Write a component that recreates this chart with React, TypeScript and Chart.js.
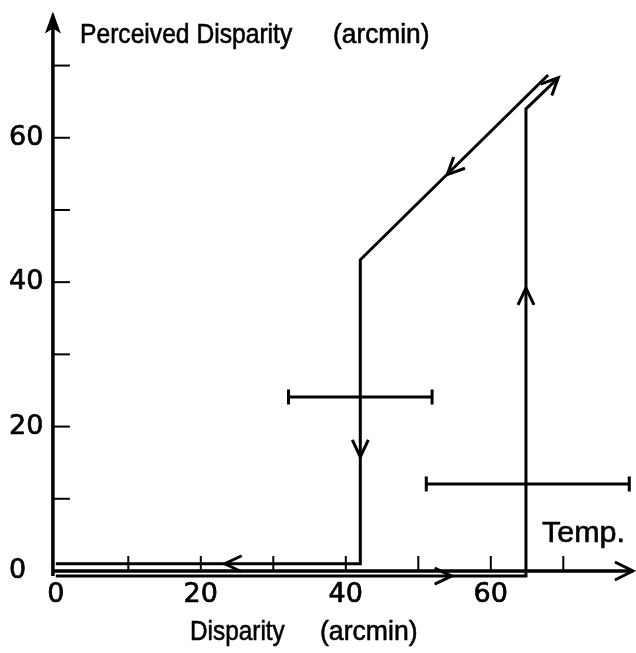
import React, { useEffect, useRef } from "react";
import { Chart, registerables } from "chart.js";

Chart.register(...registerables);

// ---- tick values ----
const xLabelTicks = [0, 20, 40, 60];
const yLabelTicks = [0, 20, 40, 60];
const xMinorTicks = [10, 20, 30, 40, 50, 60, 70];
const yMinorTicks = [10, 20, 30, 40, 50, 60, 70];

// ---- increasing-disparity path ----
const upX = [0, 64.85, 64.85, 69.3];
const upY = [-0.7, -0.7, 64, 68.3];

// ---- decreasing-disparity path ----
const downX = [67.9, 42, 42, 0];
const downY = [68.7, 43.1, 1, 1];

// ---- horizontal error bars ----
const errCenterX = [42, 65.1];
const errY = [24.1, 12.05];
const errHalf = [9.9, 14];

// ---- direction arrows on the paths (position + direction in data units) ----
const arrowX = [54.6, 64.85, 69.3, 54, 42, 23.3];
const arrowY = [-0.7, 39.2, 68.3, 54.9, 15.8, 1];
const arrowDX = [1, 0, 1, -1, 0, -1];
const arrowDY = [0, 1, 1, -1, -1, 0];

// ---- axis extents (data units) ----
const xAxisEnd = 79.6;
const yAxisEnd = 77.5;
const yAxisBottom = -0.7;

const INK = "#000";

function chevron(ctx: CanvasRenderingContext2D, x: number, y: number, dx: number, dy: number, len: number, half: number) {
  const n = Math.hypot(dx, dy) || 1;
  const ux = dx / n;
  const uy = dy / n;
  const bx = x - ux * len;
  const by = y - uy * len;
  const nx = -uy;
  const ny = ux;
  ctx.beginPath();
  ctx.moveTo(bx + nx * half, by + ny * half);
  ctx.lineTo(x, y);
  ctx.lineTo(bx - nx * half, by - ny * half);
  ctx.stroke();
}

function drawText(ctx: CanvasRenderingContext2D, text: string, x: number, y: number, size: number, sx: number) {
  ctx.save();
  ctx.translate(x, y);
  ctx.scale(sx, 1);
  ctx.font = `${size}px "Liberation Sans", Arial, sans-serif`;
  ctx.textAlign = "left";
  ctx.textBaseline = "alphabetic";
  ctx.fillStyle = INK;
  ctx.strokeStyle = INK;
  ctx.lineWidth = 0.6;
  ctx.fillText(text, 0, 0);
  ctx.strokeText(text, 0, 0);
  ctx.restore();
}

const decorPlugin = {
  id: "decor",
  afterDatasetsDraw(chart: any) {
    const ctx: CanvasRenderingContext2D = chart.ctx;
    const xs = chart.scales.x;
    const ys = chart.scales.y;
    const px = (v: number) => xs.getPixelForValue(v);
    const py = (v: number) => ys.getPixelForValue(v);
    const ax = xs.left;
    ctx.save();
    ctx.strokeStyle = INK;
    ctx.fillStyle = INK;
    ctx.lineCap = "butt";
    ctx.lineJoin = "miter";

    // x axis
    ctx.lineWidth = 3.5;
    ctx.beginPath();
    ctx.moveTo(ax, py(0));
    ctx.lineTo(px(xAxisEnd), py(0));
    ctx.stroke();
    ctx.lineWidth = 3;
    chevron(ctx, px(xAxisEnd), py(0), 1, 0, 18, 9);

    // y axis
    const tipY = py(yAxisEnd);
    ctx.lineWidth = 3.5;
    ctx.beginPath();
    ctx.moveTo(ax, py(yAxisBottom));
    ctx.lineTo(ax, tipY + 10);
    ctx.stroke();
    ctx.beginPath();
    ctx.moveTo(ax, tipY);
    ctx.lineTo(ax + 8, tipY + 22);
    ctx.lineTo(ax, tipY + 17);
    ctx.lineTo(ax - 8, tipY + 22);
    ctx.closePath();
    ctx.fill();

    // minor tick marks (inward)
    ctx.lineWidth = 2;
    yMinorTicks.forEach((v) => {
      ctx.beginPath();
      ctx.moveTo(ax, py(v));
      ctx.lineTo(ax + 17, py(v));
      ctx.stroke();
    });
    xMinorTicks.forEach((v) => {
      ctx.beginPath();
      ctx.moveTo(px(v), py(0));
      ctx.lineTo(px(v), py(0) - 15);
      ctx.stroke();
    });

    // direction arrows
    ctx.lineWidth = 3;
    arrowX.forEach((x, i) => {
      const y = arrowY[i];
      const X = px(x);
      const Y = py(y);
      const dX = px(x + arrowDX[i]) - X;
      const dY = py(y + arrowDY[i]) - Y;
      chevron(ctx, X, Y, dX, dY, 17, 8);
    });

    // texts
    drawText(ctx, "Perceived Disparity", 80, 43, 28, 0.88);
    drawText(ctx, "(arcmin)", 333, 43, 28, 0.94);
    drawText(ctx, "Disparity", 190, 640, 28, 0.87);
    drawText(ctx, "(arcmin)", 320, 640, 28, 0.95);
    drawText(ctx, "Temp.", 542, 542, 29, 1.05);

    ctx.restore();
  },
};

const noPad = (s: any) => {
  s.paddingLeft = 0;
  s.paddingRight = 0;
  s.paddingTop = 0;
  s.paddingBottom = 0;
};

export default function App() {
  const ref = useRef<HTMLCanvasElement | null>(null);

  useEffect(() => {
    document.body.style.margin = "0";
    const canvas = ref.current;
    if (!canvas) return;

    const lineDs = (xsArr: number[], ysArr: number[]) => ({
      data: xsArr.map((x, i) => ({ x, y: ysArr[i] })),
      showLine: true,
      borderColor: INK,
      borderWidth: 3,
      pointRadius: 0,
      borderCapStyle: "butt",
      borderJoinStyle: "miter",
      clip: false,
    });

    const errDs = errCenterX.map((c, i) => ({
      data: [
        { x: c - errHalf[i], y: errY[i] },
        { x: c + errHalf[i], y: errY[i] },
      ],
      showLine: true,
      borderColor: INK,
      borderWidth: 3,
      pointStyle: "line",
      pointRadius: 7.5,
      pointRotation: 90,
      pointBorderWidth: 3,
      pointBorderColor: INK,
      pointBackgroundColor: INK,
      clip: false,
    }));

    const tickFont = { family: '"DejaVu Sans", sans-serif', size: 27 };
    const tickOpts = {
      font: tickFont,
      color: INK,
      textStrokeColor: INK,
      textStrokeWidth: 0.7,
      autoSkip: false,
    };

    const chart = new Chart(canvas, {
      type: "scatter",
      data: {
        datasets: [lineDs(upX, upY), lineDs(downX, downY), ...errDs] as any,
      },
      options: {
        responsive: false,
        animation: false,
        devicePixelRatio: 1,
        layout: { autoPadding: false, padding: { left: 9, top: 7.8, right: 0.2, bottom: 0 } },
        plugins: { legend: { display: false }, tooltip: { enabled: false } },
        scales: {
          x: {
            type: "linear",
            min: -0.4,
            max: 80,
            border: { display: false },
            grid: { display: false, drawTicks: false },
            ticks: { ...tickOpts, padding: 1, maxRotation: 0 },
            afterBuildTicks: (s: any) => {
              s.ticks = xLabelTicks.map((v) => ({ value: v }));
            },
            afterFit: (s: any) => {
              s.height = 74.8;
              noPad(s);
            },
          },
          y: {
            type: "linear",
            min: -1,
            max: 78,
            border: { display: false },
            grid: { display: false, drawTicks: false },
            ticks: { ...tickOpts, crossAlign: "far" },
            afterBuildTicks: (s: any) => {
              s.ticks = yLabelTicks.map((v) => ({ value: v }));
            },
            afterFit: (s: any) => {
              s.width = 43.9;
              noPad(s);
            },
          },
        },
      } as any,
      plugins: [decorPlugin],
    });

    return () => chart.destroy();
  }, []);

  return <canvas ref={ref} width={636} height={653} style={{ display: "block" }} />;
}
